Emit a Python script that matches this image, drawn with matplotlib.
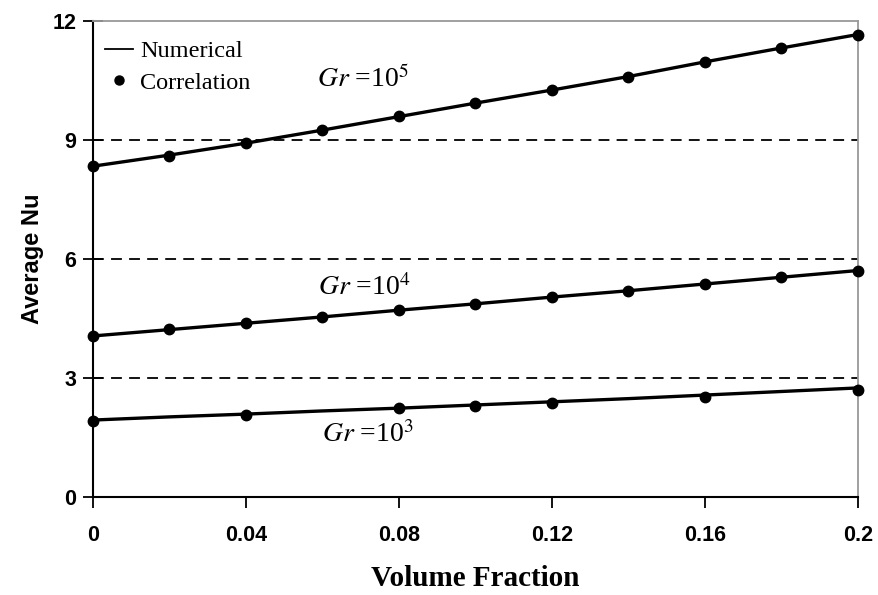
import matplotlib.pyplot as plt
from matplotlib.lines import Line2D

plt.rcParams['mathtext.fontset'] = 'stix'

# volume fraction
phi = [0, 0.02, 0.04, 0.06, 0.08, 0.10, 0.12, 0.14, 0.16, 0.18, 0.20]

# numerical curves (lines)
num_gr5 = [8.34, 8.62, 8.92, 9.25, 9.59, 9.93, 10.26, 10.60, 10.97, 11.32, 11.66]
num_gr4 = [4.06, 4.22, 4.38, 4.54, 4.71, 4.87, 5.04, 5.20, 5.37, 5.54, 5.71]
num_gr3 = [1.94, 2.02, 2.09, 2.17, 2.24, 2.32, 2.40, 2.48, 2.57, 2.66, 2.75]

# correlation points (markers)
cor_phi5 = [0, 0.02, 0.04, 0.06, 0.08, 0.10, 0.12, 0.14, 0.16, 0.18, 0.20]
cor_gr5 = [8.34, 8.60, 8.92, 9.25, 9.60, 9.93, 10.26, 10.59, 10.97, 11.32, 11.65]
cor_phi4 = [0, 0.02, 0.04, 0.06, 0.08, 0.10, 0.12, 0.14, 0.16, 0.18, 0.20]
cor_gr4 = [4.06, 4.23, 4.39, 4.54, 4.71, 4.87, 5.04, 5.19, 5.37, 5.55, 5.70]
cor_phi3 = [0, 0.04, 0.08, 0.10, 0.12, 0.16, 0.20]
cor_gr3 = [1.92, 2.07, 2.24, 2.29, 2.37, 2.52, 2.70]

xticks = [0, 0.04, 0.08, 0.12, 0.16, 0.2]
xticklabels = ['0', '0.04', '0.08', '0.12', '0.16', '0.2']
yticks = [0, 3, 6, 9, 12]

fig = plt.figure(figsize=(8.79, 5.95), dpi=100)
ax = fig.add_axes([0.1058, 0.1647, 0.8703, 0.8])

for y in [3, 6, 9]:
    ax.axhline(y, color='black', lw=1.3, ls=(0, (6, 4)), zorder=1)

for xs, ys in [(phi, num_gr5), (phi, num_gr4), (phi, num_gr3)]:
    ax.plot(xs, ys, color='black', lw=2.4, zorder=3)
for xs, ys in [(cor_phi5, cor_gr5), (cor_phi4, cor_gr4), (cor_phi3, cor_gr3)]:
    ax.plot(xs, ys, 'o', color='black', ms=7.5, zorder=4, clip_on=False)

ax.set_xlim(0, 0.2)
ax.set_ylim(0, 12)
ax.set_xticks(xticks)
ax.set_xticklabels(xticklabels)
ax.set_yticks(yticks)

for lab in ax.get_xticklabels() + ax.get_yticklabels():
    lab.set_fontfamily('Liberation Sans')
    lab.set_fontweight('bold')
    lab.set_fontsize(15.5)

ax.tick_params(axis='x', direction='out', length=8, width=1.3, pad=12)
ax.tick_params(axis='y', direction='inout', length=14, width=1.3, pad=5)

for s in ['left', 'bottom']:
    ax.spines[s].set_color('black')
    ax.spines[s].set_linewidth(1.5)
for s in ['top', 'right']:
    ax.spines[s].set_color('#999999')
    ax.spines[s].set_linewidth(1.3)

ax.set_xlabel('Volume Fraction', fontfamily='Liberation Serif', fontweight='bold',
              fontsize=21, labelpad=14)
ax.set_ylabel('Average Nu', fontfamily='Liberation Sans', fontweight='bold',
              fontsize=17)
ax.yaxis.set_label_coords(-0.064, 0.5)

lab_kw = dict(fontfamily='Liberation Serif', fontsize=20, color='black')
ax.text(0.0586, 10.34, r'$\mathit{Gr}$ =10$^{5}$', **lab_kw)
ax.text(0.0588, 5.09, r'$\mathit{Gr}$ =10$^{4}$', **lab_kw)
ax.text(0.0598, 1.39, r'$\mathit{Gr}$ =10$^{3}$', **lab_kw)

handles = [Line2D([], [], color='black', lw=1.3),
           Line2D([], [], color='black', marker='o', ls='none', ms=6.5)]
ax.legend(handles, ['Numerical', 'Correlation'], loc='upper left',
          frameon=False, prop={'family': 'Liberation Serif', 'size': 17.5},
          handlelength=1.15, handletextpad=0.3, labelspacing=0.4,
          bbox_to_anchor=(0.0157, 0.96), borderpad=0, borderaxespad=0)

fig.savefig('out.png', dpi=100)
